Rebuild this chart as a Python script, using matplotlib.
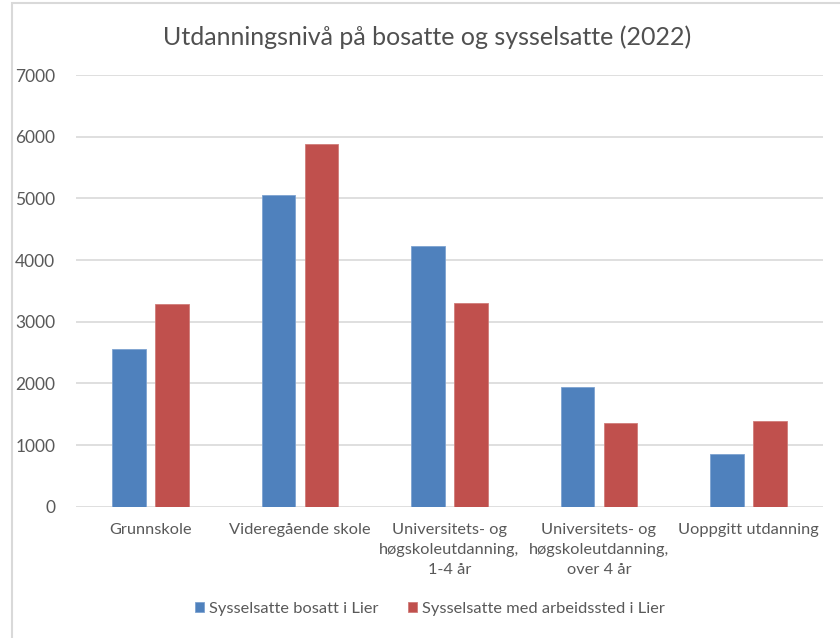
import matplotlib
matplotlib.use("Agg")
import matplotlib.pyplot as plt
import numpy as np
from matplotlib.patches import Rectangle

categories = ["Grunnskole", "Videregående skole",
              "Universitets- og\nhøgskoleutdanning,\n1-4 år",
              "Universitets- og\nhøgskoleutdanning,\nover 4 år",
              "Uoppgitt utdanning"]
bosatt = [2550, 5050, 4230, 1940, 860]
arbeidssted = [3280, 5880, 3310, 1360, 1390]
series_names = ["Sysselsatte bosatt i Lier", "Sysselsatte med arbeidssted i Lier"]
yticks = [0, 1000, 2000, 3000, 4000, 5000, 6000, 7000]

plt.rcParams['font.family'] = ['Lato', 'DejaVu Sans']

fig = plt.figure(figsize=(8.4, 6.38), dpi=100)
fig.patch.set_facecolor('white')
# outer chart border
fig.patches.append(Rectangle((12/840, -0.1), 1.2, (638-3)/638 + 0.1, transform=fig.transFigure,
                             fill=False, edgecolor='#d9d9d9', linewidth=1.5))

ax = fig.add_axes([76/840, 1-506.7/638, (823-76)/840, (506.7-75)/638])
x = np.arange(len(categories))
w = 0.224
off = 0.144
blue = '#4f81bd'
red = '#c0504d'
ax.bar(x - off, bosatt, w, color=blue, edgecolor='#7ea3d1', linewidth=0.6, label=series_names[0], zorder=3)
ax.bar(x + off, arbeidssted, w, color=red, edgecolor='#d07c79', linewidth=0.6, label=series_names[1], zorder=3)

ax.set_xlim(-0.5, len(categories) - 0.5)
ax.set_ylim(0, 7000)
ax.set_yticks(yticks)
ax.set_yticklabels([str(v) for v in yticks])
ax.yaxis.grid(True, color='#d9d9d9', linewidth=1.2, zorder=0)
for s in ax.spines.values():
    s.set_visible(False)
ax.tick_params(axis='both', length=0, colors='#595959')
ax.tick_params(axis='y', pad=15, labelsize=12.5)
ax.set_xticks(x)
ax.set_xticklabels(categories, linespacing=1.55, fontsize=11.8)
ax.tick_params(axis='x', pad=12)

fig.text(427/840, 1-37/638, "Utdanningsnivå på bosatte og sysselsatte (2022)",
         ha='center', va='center', fontsize=18, color='#505050')

leg = ax.legend(loc='center', bbox_to_anchor=(430/840, 1-609/638), bbox_transform=fig.transFigure,
                ncol=2, frameon=False, fontsize=11.8, handlelength=0.55, handleheight=0.55,
                handletextpad=0.3, columnspacing=1.8)
for t in leg.get_texts():
    t.set_color('#595959')

fig.savefig("out.png", dpi=100)
